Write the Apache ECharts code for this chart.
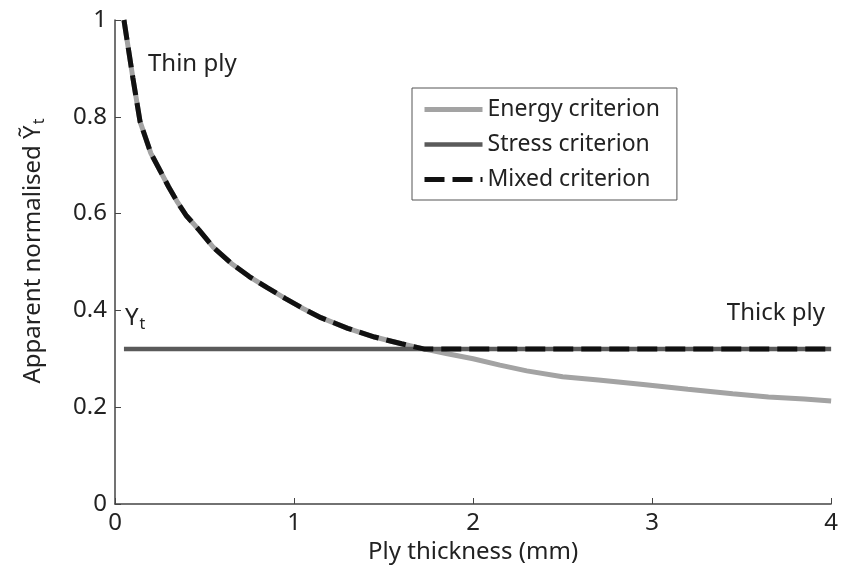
<!DOCTYPE html>
<html>
<head>
<meta charset="utf-8">
<script src="https://cdn.jsdelivr.net/npm/echarts@6/dist/echarts.min.js"></script>
<style>html,body{margin:0;padding:0;background:#fff}#c{width:841px;height:571px}</style>
</head>
<body>
<div id="c"></div>
<script>
// Ply thickness (mm)
const thickness = [0.05, 0.1, 0.14, 0.2, 0.25, 0.3, 0.35, 0.4, 0.47, 0.55, 0.65, 0.75, 0.85, 0.95, 1.05, 1.15, 1.3, 1.45, 1.6, 1.73, 1.85, 2.0, 2.15, 2.3, 2.5, 2.7, 2.95, 3.2, 3.45, 3.65, 3.85, 4.0];
const energy =    [1.0, 0.88, 0.79, 0.725, 0.69, 0.655, 0.623, 0.595, 0.566, 0.53, 0.497, 0.47, 0.447, 0.425, 0.404, 0.385, 0.363, 0.345, 0.331, 0.32, 0.311, 0.3, 0.287, 0.275, 0.263, 0.256, 0.247, 0.237, 0.228, 0.221, 0.217, 0.213];
const mixed =     [1.0, 0.88, 0.79, 0.725, 0.69, 0.655, 0.623, 0.595, 0.566, 0.53, 0.497, 0.47, 0.447, 0.425, 0.404, 0.385, 0.363, 0.345, 0.331, 0.32, 0.32, 0.32, 0.32, 0.32, 0.32, 0.32, 0.32, 0.32, 0.32, 0.32, 0.32, 0.32];
const stressX = [0.05, 4.0];
const stress =  [0.32, 0.32];
const seriesNames = ['Energy criterion', 'Stress criterion', 'Mixed criterion'];
const xTicks = [0, 1, 2, 3, 4];
const yTicks = [0, 0.2, 0.4, 0.6, 0.8, 1];

const FONT = 'Noto Sans';
const FS = 24;
const chart = echarts.init(document.getElementById('c'), null, {renderer: 'canvas'});
const pair = (xs, ys) => xs.map((x, i) => [x, ys[i]]);
const axisCol = '#444';

chart.setOption({
  backgroundColor: '#fff',
  animation: false,
  textStyle: {fontFamily: FONT},
  grid: {left: 115, right: 6, top: 20, bottom: 67, containLabel: false},
  legend: {
    orient: 'vertical', left: 412, top: 88,
    padding: [10, 17, 9, 10], itemGap: 12, itemWidth: 58, itemHeight: 21,
    borderColor: '#555', borderWidth: 1,
    itemStyle: {opacity: 0},
    lineStyle: {width: 'inherit'},
    textStyle: {fontFamily: FONT, fontSize: 23, color: '#222'},
    data: seriesNames
  },
  xAxis: {
    type: 'value', min: 0, max: 4, interval: 1,
    name: 'Ply thickness (mm)', nameLocation: 'middle', nameGap: 35,
    nameTextStyle: {fontFamily: FONT, fontSize: FS, color: '#222'},
    axisLine: {show: true, lineStyle: {color: axisCol, width: 1.5}},
    axisTick: {show: true, inside: true, length: 6, lineStyle: {color: axisCol}},
    axisLabel: {fontFamily: FONT, fontSize: FS, color: '#222', margin: 7,
      formatter: v => xTicks.includes(v) ? String(v) : ''},
    splitLine: {show: false}
  },
  yAxis: {
    type: 'value', min: 0, max: 1, interval: 0.2,
    name: '{a|Apparent normalised Ỹ}{s|t}', nameLocation: 'middle', nameGap: 68,
    nameTextStyle: {fontFamily: FONT, fontSize: FS, color: '#222', padding: [0, 0, 0, 22],
      rich: {a: {fontFamily: FONT, fontSize: FS, color: '#222'},
             s: {fontFamily: FONT, fontSize: 16, color: '#222', padding: [12, 0, 0, 1]}}},
    axisLine: {show: true, lineStyle: {color: axisCol, width: 1.5}},
    axisTick: {show: true, inside: true, length: 6, lineStyle: {color: axisCol}},
    axisLabel: {fontFamily: FONT, fontSize: FS, color: '#222', margin: 8,
      formatter: v => { const t = yTicks.find(k => Math.abs(k - v) < 1e-9); return t === undefined ? '' : String(t); }},
    splitLine: {show: false}
  },
  series: [
    {name: seriesNames[0], type: 'line', data: pair(thickness, energy), showSymbol: false, symbol: 'none',
      lineStyle: {color: '#a3a3a3', width: 5}, itemStyle: {color: '#a3a3a3'}, z: 2},
    {name: seriesNames[1], type: 'line', data: pair(stressX, stress), showSymbol: false, symbol: 'none',
      lineStyle: {color: '#5a5a5a', width: 4.5}, itemStyle: {color: '#5a5a5a'}, z: 3},
    {name: seriesNames[2], type: 'line', data: pair(thickness, mixed), showSymbol: false, symbol: 'none',
      lineStyle: {color: '#111', width: 5, type: [20, 8]}, itemStyle: {color: '#111'}, z: 4}
  ],
  graphic: [
    {type: 'text', left: 148, top: 52, style: {text: 'Thin ply', fontFamily: FONT, fontSize: FS, fill: '#222'}},
    {type: 'text', right: 16, top: 301, style: {text: 'Thick ply', fontFamily: FONT, fontSize: FS, fill: '#222'}},
    {type: 'text', left: 125, top: 306, style: {text: '{a|Y}{s|t}', fontFamily: FONT, fontSize: FS, fill: '#222',
      rich: {a: {fontFamily: FONT, fontSize: FS, fill: '#222'}, s: {fontFamily: FONT, fontSize: 16, fill: '#222', padding: [12, 0, 0, 1]}}}}
  ]
});
</script>
</body>
</html>
